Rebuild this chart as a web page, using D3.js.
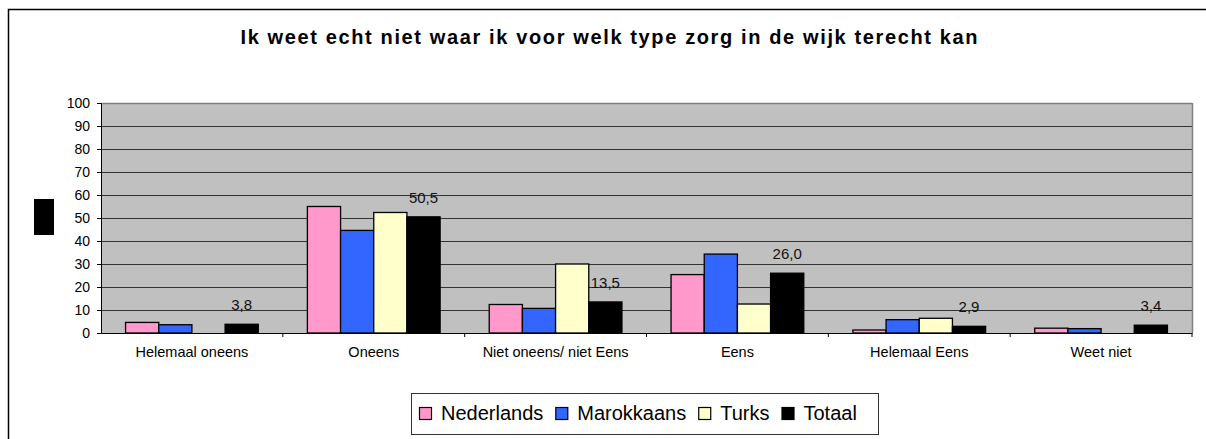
<!DOCTYPE html>
<html>
<head>
<meta charset="utf-8">
<script src="https://cdn.jsdelivr.net/npm/d3@7"></script>
<style>
  html, body { margin: 0; padding: 0; background: #fff; }
  svg { display: block; font-family: Arial, "Liberation Sans", sans-serif; }
</style>
</head>
<body>
<svg id="chart" width="1206" height="439"></svg>
<script>
// Survey answers: "Ik weet echt niet waar ik voor welk type zorg in de wijk terecht kan"
const categories = ["Helemaal oneens", "Oneens", "Niet oneens/ niet Eens", "Eens", "Helemaal Eens", "Weet niet"];
const seriesNames = ["Nederlands", "Marokkaans", "Turks", "Totaal"];
const nederlands = [4.6, 55.0, 12.4, 25.4, 1.3, 2.1];
const marokkaans = [3.6, 44.6, 10.7, 34.3, 5.8, 1.9];
const turks      = [0.0, 52.4, 30.0, 12.6, 6.4, 0.0];
const totaal     = [3.8, 50.5, 13.5, 26.0, 2.9, 3.4];
const yTicks = [0, 10, 20, 30, 40, 50, 60, 70, 80, 90, 100];
const colors = ["#ff99cc", "#3366ff", "#ffffcc", "#000000"];

const seriesValues = [nederlands, marokkaans, turks, totaal];
const rows = categories.map((c, i) => ({
  category: c,
  values: seriesNames.map((s, j) => ({ series: s, value: seriesValues[j][i], color: colors[j] }))
}));

const svg = d3.select("#chart");
const plot = { left: 101, right: 1192, top: 103, bottom: 333 };

// outer chart frame
svg.append("rect")
  .attr("x", 8.5).attr("y", 9.5)
  .attr("width", 1300).attr("height", 600)
  .attr("fill", "#fff").attr("stroke", "#000").attr("stroke-width", 1.5);

// title
svg.append("text")
  .attr("x", 609).attr("y", 44)
  .attr("text-anchor", "middle")
  .attr("font-size", 20).attr("font-weight", "bold")
  .attr("textLength", 737).attr("lengthAdjust", "spacing")
  .text("Ik weet echt niet waar ik voor welk type zorg in de wijk terecht kan");

// y-axis title block
svg.append("rect")
  .attr("x", 34).attr("y", 199).attr("width", 20).attr("height", 36)
  .attr("fill", "#000");

const x0 = d3.scaleBand().domain(categories).range([plot.left, plot.right]).padding(0);
const x1 = d3.scaleBand().domain(seriesNames).range([0, x0.bandwidth()])
  .paddingInner(0).paddingOuter(0.74);
const y = d3.scaleLinear().domain([0, 100]).range([plot.bottom, plot.top]);

// plot background
svg.append("rect")
  .attr("x", plot.left).attr("y", plot.top)
  .attr("width", plot.right - plot.left).attr("height", plot.bottom - plot.top)
  .attr("fill", "#c0c0c0");

// gridlines
svg.append("g").selectAll("line")
  .data(yTicks.filter(t => t > 0))
  .join("line")
  .attr("x1", plot.left).attr("x2", plot.right)
  .attr("y1", d => Math.round(y(d)) + 0.5).attr("y2", d => Math.round(y(d)) + 0.5)
  .attr("stroke", d => d === 100 ? "#808080" : "#333")
  .attr("stroke-width", d => d === 100 ? 1.5 : 1);

// right plot border
svg.append("line")
  .attr("x1", plot.right + 0.5).attr("x2", plot.right + 0.5)
  .attr("y1", plot.top).attr("y2", plot.bottom)
  .attr("stroke", "#808080").attr("stroke-width", 1.5);

// bars
const groups = svg.append("g").selectAll("g")
  .data(rows).join("g")
  .attr("transform", d => `translate(${x0(d.category)},0)`);

groups.selectAll("rect")
  .data(d => d.values.filter(v => v.value > 0))
  .join("rect")
  .attr("x", d => x1(d.series))
  .attr("y", d => y(d.value))
  .attr("width", x1.bandwidth())
  .attr("height", d => y(0) - y(d.value))
  .attr("fill", d => d.color)
  .attr("stroke", "#000").attr("stroke-width", 1.3);

// value labels on the Totaal bars
groups.append("text")
  .attr("x", x1("Totaal") + x1.bandwidth() / 2)
  .attr("y", d => y(d.values[3].value) - 14)
  .attr("text-anchor", "middle")
  .attr("font-size", 15)
  .attr("fill", "#111")
  .text(d => d3.format(".1f")(d.values[3].value).replace(".", ","));

// y axis
const yAxis = svg.append("g")
  .attr("transform", `translate(${plot.left},0)`)
  .call(d3.axisLeft(y).tickValues(yTicks).tickSize(4).tickPadding(7).tickFormat(d3.format("d")));
yAxis.select(".domain").attr("stroke", "#000");
yAxis.selectAll(".tick line").attr("stroke", "#000");
yAxis.selectAll("text").attr("font-size", 14).attr("font-family", "Arial, 'Liberation Sans', sans-serif").attr("fill", "#000");

// x axis
const xAxis = svg.append("g")
  .attr("transform", `translate(0,${plot.bottom})`)
  .call(d3.axisBottom(x0).tickSize(0).tickPadding(14));
xAxis.select(".domain").attr("stroke", "#000");
xAxis.selectAll("text").attr("font-size", 14.5).attr("font-family", "Arial, 'Liberation Sans', sans-serif").attr("fill", "#000");

// category separator ticks
svg.append("g").selectAll("line")
  .data(categories.slice(1).map(c => x0(c)).concat([plot.right]))
  .join("line")
  .attr("x1", d => d).attr("x2", d => d)
  .attr("y1", plot.bottom).attr("y2", plot.bottom + 4)
  .attr("stroke", "#000");

// legend
const legend = svg.append("g");
legend.append("rect")
  .attr("x", 411.5).attr("y", 393.5).attr("width", 467).attr("height", 41)
  .attr("fill", "#fff").attr("stroke", "#333").attr("stroke-width", 1);

let lx = 419;
seriesNames.forEach((s, i) => {
  legend.append("rect")
    .attr("x", lx + 0.5).attr("y", 407.5).attr("width", 12).attr("height", 12)
    .attr("fill", colors[i]).attr("stroke", "#000").attr("stroke-width", 1.2);
  const t = legend.append("text")
    .attr("x", lx + 22).attr("y", 420)
    .attr("font-size", 20)
    .text(s);
  lx = lx + 22 + t.node().getComputedTextLength() + 12;
});
</script>
</body>
</html>
